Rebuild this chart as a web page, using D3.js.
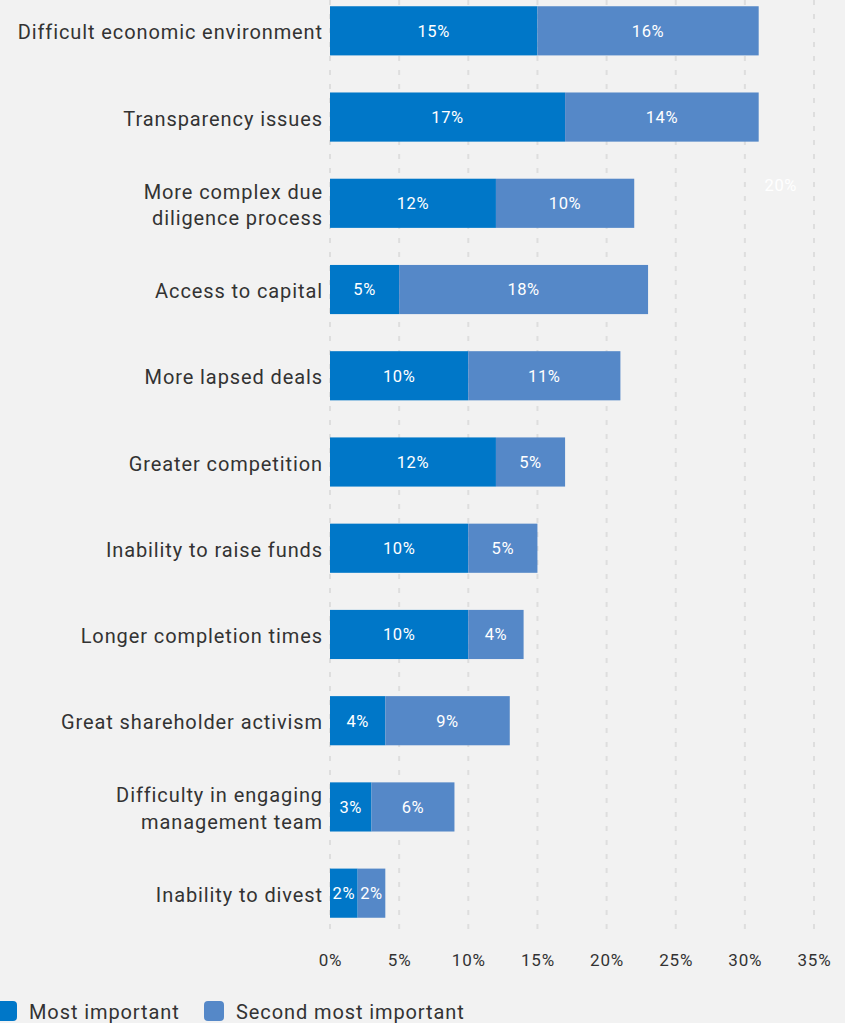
<!DOCTYPE html>
<html>
<head>
<meta charset="utf-8">
<script src="https://cdn.jsdelivr.net/npm/d3@7"></script>
<style>
  html, body { margin: 0; padding: 0; background: #f2f2f2; }
  svg { display: block; font-family: Roboto, "Noto Sans", sans-serif; }
</style>
</head>
<body>
<svg id="chart" width="845" height="1023"></svg>
<script>
// Challenges ranked as most / second most important (share of respondents, %)
const categories = [
  "Difficult economic environment",
  "Transparency issues",
  "More complex due|diligence process",
  "Access to capital",
  "More lapsed deals",
  "Greater competition",
  "Inability to raise funds",
  "Longer completion times",
  "Great shareholder activism",
  "Difficulty in engaging|management team",
  "Inability to divest"
];
const mostImportant   = [15, 17, 12, 5, 10, 12, 10, 10, 4, 3, 2];
const secondImportant = [16, 14, 10, 18, 11, 5, 5, 4, 9, 6, 2];
const seriesNames = ["Most important", "Second most important"];
const tickValues = [0, 5, 10, 15, 20, 25, 30, 35];
const strayLabel = { value: 32.6, row: 2, text: "20%" };

const colors = ["#0077c8", "#5588c8"];

const svg = d3.select("#chart");
const left = 330, right = 814;

const x = d3.scaleLinear().domain([0, 35]).range([left, right]);
const y = d3.scaleBand()
  .domain(d3.range(categories.length))
  .range([-11, 935])
  .paddingInner(0.43)
  .paddingOuter(0.2);

// dashed vertical gridlines
svg.append("g")
  .selectAll("line")
  .data(tickValues)
  .join("line")
  .attr("x1", d => x(d)).attr("x2", d => x(d))
  .attr("y1", 0).attr("y2", 935)
  .attr("stroke", "#dedede")
  .attr("stroke-width", 2)
  .attr("stroke-dasharray", "5,9");

// stacked data
const rows = categories.map((c, i) => ({ cat: c, vals: [mostImportant[i], secondImportant[i]] }));
const stack = d3.stack().keys([0, 1]).value((d, k) => d.vals[k]);
const series = stack(rows);

const g = svg.append("g");
series.forEach((s, k) => {
  g.append("g").selectAll("rect")
    .data(s)
    .join("rect")
    .attr("x", d => x(d[0]))
    .attr("y", (d, i) => y(i))
    .attr("width", d => x(d[1]) - x(d[0]))
    .attr("height", y.bandwidth())
    .attr("fill", colors[k]);

  g.append("g").selectAll("text")
    .data(s)
    .join("text")
    .attr("x", d => (x(d[0]) + x(d[1])) / 2)
    .attr("y", (d, i) => y(i) + y.bandwidth() / 2)
    .attr("dy", "0.36em")
    .attr("text-anchor", "middle")
    .attr("fill", "#ffffff")
    .attr("font-size", 16.5)
    .attr("letter-spacing", 0.6)
    .text(d => (d[1] - d[0]) + "%");
});

// faint white value label on the right
svg.append("text")
  .attr("x", x(strayLabel.value))
  .attr("y", y(strayLabel.row) + 6)
  .attr("dy", "0.36em")
  .attr("text-anchor", "middle")
  .attr("fill", "#ffffff")
  .attr("font-size", 16.5)
  .attr("letter-spacing", 0.6)
  .text(strayLabel.text);

// category labels
const catG = svg.append("g");
categories.forEach((c, i) => {
  const lines = c.split("|");
  const cy = y(i) + y.bandwidth() / 2;
  const lh = 26.5;
  const t = catG.append("text")
    .attr("text-anchor", "end")
    .attr("fill", "#333333")
    .attr("font-size", 20)
    .attr("letter-spacing", 0.9);
  lines.forEach((ln, j) => {
    t.append("tspan")
      .attr("x", 323)
      .attr("y", cy + (j - (lines.length - 1) / 2) * lh + 1.5)
      .attr("dy", "0.35em")
      .text(ln);
  });
});

// x axis tick labels
const axis = d3.axisBottom(x).tickValues(tickValues).tickFormat(d => d + "%").tickSize(0);
const ax = svg.append("g").attr("transform", "translate(0,951)").call(axis);
ax.select(".domain").remove();
ax.selectAll("text")
  .attr("fill", "#333333")
  .attr("font-size", 17)
  .attr("letter-spacing", 0.8)
  .attr("font-family", "Roboto, sans-serif");

// legend
const legendItems = [{ x: -3, tx: 29 }, { x: 204, tx: 236 }];
const lg = svg.append("g");
seriesNames.forEach((n, k) => {
  lg.append("rect")
    .attr("x", legendItems[k].x).attr("y", 1001)
    .attr("width", 20).attr("height", 20)
    .attr("rx", 4)
    .attr("fill", colors[k]);
  lg.append("text")
    .attr("x", legendItems[k].tx).attr("y", 1012)
    .attr("dy", "0.36em")
    .attr("fill", "#333333")
    .attr("font-size", 20)
    .attr("letter-spacing", 0.9)
    .text(n);
});
</script>
</body>
</html>
